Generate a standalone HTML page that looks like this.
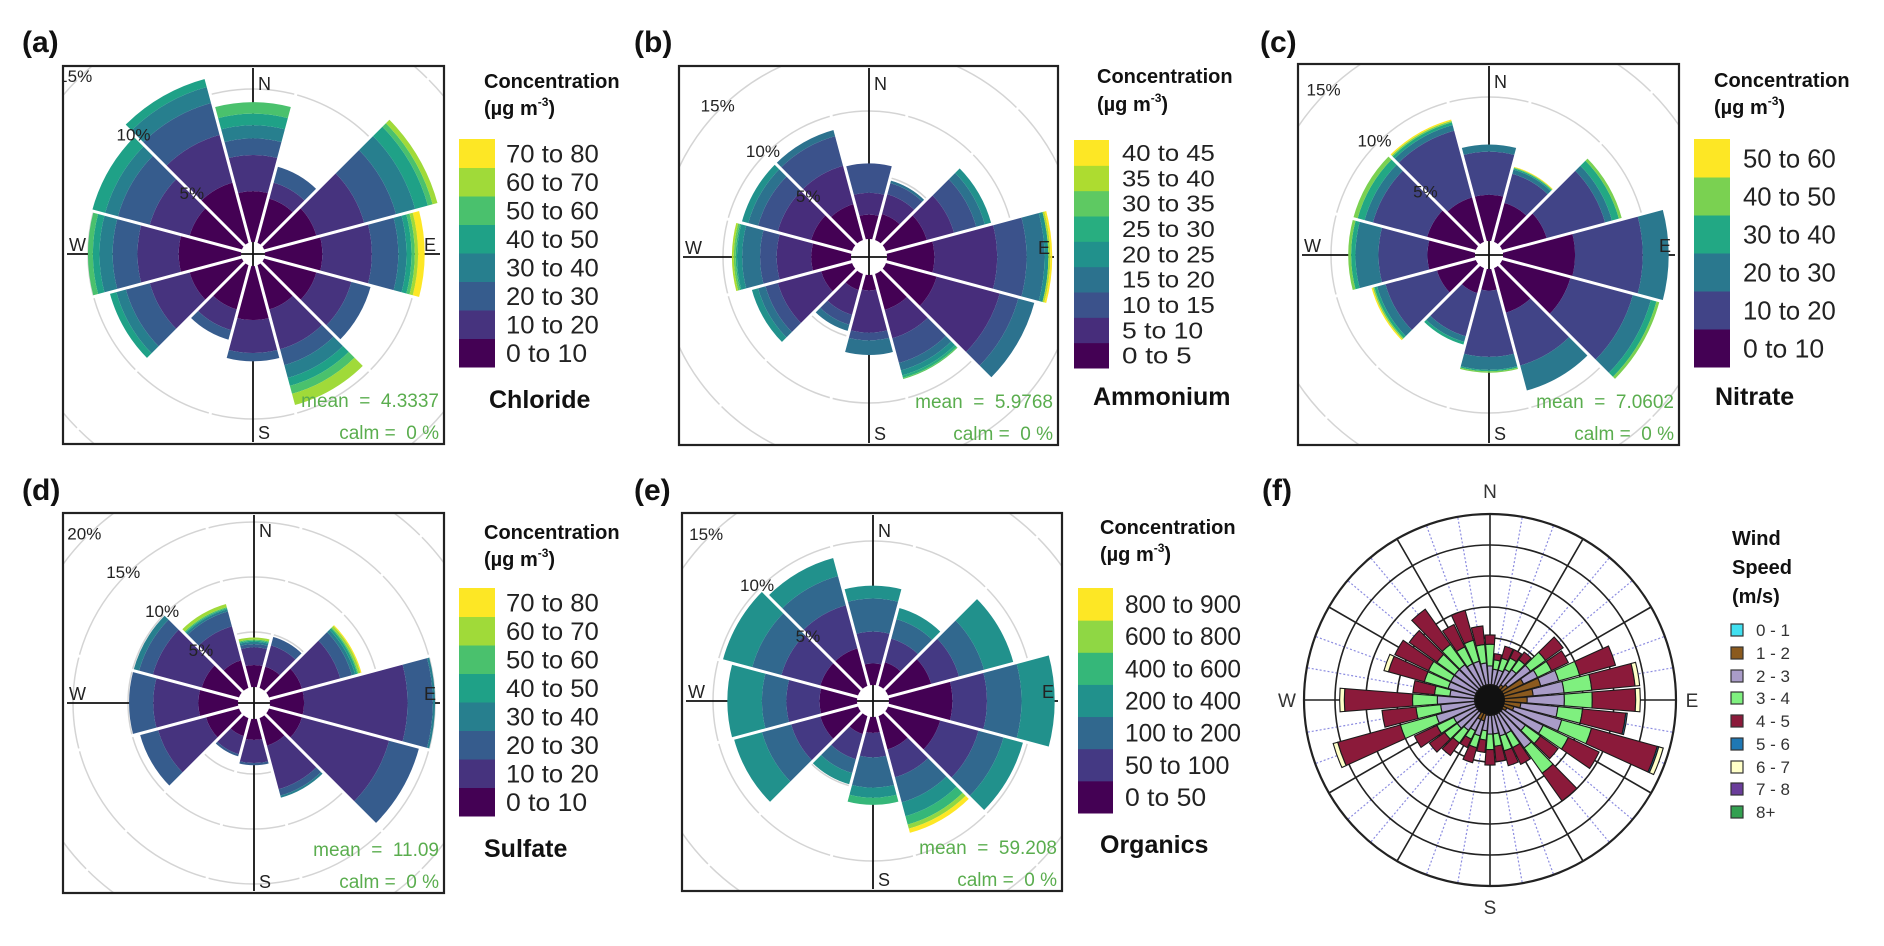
<!DOCTYPE html>
<html><head><meta charset="utf-8"><title>Wind roses</title>
<style>
html,body{margin:0;padding:0;background:#fff;width:1884px;height:946px;overflow:hidden;}
svg{display:block;font-family:"Liberation Sans",Arial,sans-serif;position:absolute;left:0;top:0;}
text{white-space:pre;}
</style></head>
<body>
<svg id="fig" width="1884" height="946" viewBox="0 0 1884 946" xmlns="http://www.w3.org/2000/svg">
<rect x="0" y="0" width="1884" height="946" fill="#fff"/>
</svg>
<script>
// ---------- panel data (percent frequency per concentration bin, sectors N clockwise, 30 deg) ----------
const chlorideBins = ["0 to 10","10 to 20","20 to 30","30 to 40","40 to 50","50 to 60","60 to 70","70 to 80"];
const chlorideSectors = [
 [3.8,2.2,1,0.8,0.7,0.7],[3.5,1,1],[4,3,2,1.2,0.8,0.3,0.3],[4.2,3,1.6,0.5,0.3,0.2,0.2,0.4],
 [4,2.2,1.2],[3.5,2.5,1,0.8,0.5,0.5,0.7],[4,2,0.5],[3.5,1.3,0.6],
 [4,2.5,1.5,0.6,0.4],[4.5,2.5,1.5,0.8,0.4,0.3],[4,2.5,2,0.8,0.8],[4.5,3,2,1,0.5]];
const ammoniumBins = ["0 to 5","5 to 10","10 to 15","15 to 20","20 to 25","25 to 30","30 to 35","35 to 40","40 to 45"];
const ammoniumSectors = [
 [1.9,1.7,2.3],[2.1,1.6,0.9,0.2],[3.3,2.2,1.8,0.7,0.5],[3.7,4.9,2.3,1.4,0.3,0,0,0.15,0.15],
 [4.1,5.1,1.5,1.3],[2.9,2.3,2,0.6,0.4,0.2,0.1],[1.2,3.3,0.6,1.15],[1.3,2,0.8,0.5],
 [2.5,3.5,1.0,0.6,0.5],[3.1,2.7,1.3,1.4,0.4,0.1,0.15,0.15],[3.3,2.7,1.6,0.8,0.5],[2.9,3.1,2.4,0.5]];
const nitrateBins = ["0 to 10","10 to 20","20 to 30","30 to 40","40 to 50","50 to 60"];
const nitrateSectors = [
 [3.2,3,0.5],[2.8,2.1,0.3,0.1,0.05,0.05],[3.2,4.2,0.5,0.5,0.2],[5,4.7,1.8],
 [4.9,4.5,1.3,0.4,0.2],[3.2,3.8,1.8],[1.5,4.6,0.9,0.1,0.1],[1.8,3.1,0.4,0.2],
 [2.8,3.7,0.6,0.2,0.1,0.1],[3.3,3.4,1.6,0.3,0.2],[3.5,3.9,0.6,0.5,0.3],[3.2,4.8,0.4,0.2,0.1,0.1]];
const sulfateBins = ["0 to 10","10 to 20","20 to 30","30 to 40","40 to 50","50 to 60","60 to 70","70 to 80"];
const sulfateSectors = [
 [2,1.6,0.3,0.2,0.1,0.1,0.2],[2,2,0.8],[3.1,3.6,1.1,0.3,0.2,0.1,0.2,0.1],[3.1,9.4,2.3,0.2],
 [3.1,8.2,2.8],[2.6,4.1,0.6,0.2],[1.9,2.1,0.2],[1.7,1.7,0.2],
 [3.1,4.5,1.7],[3.6,4.1,2.2],[3.5,4.6,1.3,0.5],[2.6,3.2,1.4,0.2,0.1,0.1,0.3]];
const organicsBins = ["0 to 50","50 to 100","100 to 200","200 to 400","400 to 600","600 to 800","800 to 900"];
const organicsSectors = [
 [1.5,2.2,2.3,0.9],[1.7,1.7,1.4,0.8],[3.1,2,1.8,2.1],[4.4,2.4,2.4,2.3],
 [3.75,2.75,1.8,1.4],[2.4,2,1.8,1,0.6,0.3,0.3],[1.1,1.7,2.1,0.7,0.5],[1.3,1.8,1,0.8],
 [2.7,2.1,2.1,2],[2.6,2.3,1.7,2.4],[2.7,2.8,2.1,2.1],[2.7,3.1,2.1,1.3]];

// ---------- wind speed rose data (units of ring spacing), 36 directions from N ----------
const windBins = ["0 - 1","1 - 2","2 - 3","3 - 4","4 - 5","5 - 6","6 - 7","7 - 8","8+"];
const wind01 = [0.1,0.1,0.1,0.1,0.1,0.1,0.1,0.1,0.1,0.1,0.1,0.1,0.1,0.1,0.1,0.1,0.1,0.1,0.1,0.1,0.1,0.1,0.1,0.1,0.1,0.1,0.1,0.1,0.1,0.1,0.1,0.1,0.1,0.1,0.1,0.1];
const wind12 = [0.3,0.3,0.3,0.3,0.4,0.5,1.0,1.5,1.2,1.0,0.8,0.6,0.4,0.3,0.3,0.3,0.3,0.3,0.3,0.3,0.5,0.5,0.3,0.3,0.3,0.3,0.3,0.3,0.3,0.3,0.3,0.3,0.3,0.3,0.3,0.3];
const wind23 = [0.6,0.5,0.5,0.6,0.6,0.9,0.5,0.6,1.0,1.2,1.2,1.6,1.3,0.9,1.4,0.7,0.7,0.6,0.6,0.5,0.5,0.4,0.7,0.8,0.8,1.3,1.1,1.2,0.8,0.9,0.9,0.9,0.9,0.8,0.8,0.7];
const wind34 = [0.7,0.3,0.4,0.4,0.4,0.6,0.5,0.7,0.9,0.9,0.8,1.0,0.9,0.6,1.0,0.5,0.5,0.4,0.5,0.3,0.4,0.3,0.5,0.5,0.6,1.2,0.8,0.8,0.5,0.8,0.8,0.7,0.8,0.6,0.7,0.6];
const wind45 = [0.3,0.2,0.4,0.3,0.3,0.7,0.6,1.2,1.4,1.4,1.4,2.2,1.1,0.7,1.1,0.6,0.5,0.5,0.5,0.4,0.5,0.3,0.5,0.6,0.8,2.1,1.1,2.2,0.7,1.2,1.2,1.1,1.4,0.8,1.0,0.6];
const wind56 = [0,0,0,0,0,0,0,0,0,0,0.05,0.05,0,0,0,0,0,0,0,0,0,0,0,0,0,0,0,0,0,0,0,0,0,0,0,0];
const wind67 = [0,0,0,0,0,0,0,0,0.15,0.15,0,0.15,0,0,0,0,0,0,0,0,0,0,0,0,0,0.15,0,0.15,0,0.15,0,0,0,0,0,0];
const wind78 = [0,0,0,0,0,0,0,0,0,0,0,0,0,0,0,0,0,0,0,0,0,0,0,0,0,0,0,0,0,0,0,0,0,0,0,0];
const wind8p = [0,0,0,0,0,0,0,0,0,0,0,0,0,0,0,0,0,0,0,0,0,0,0,0,0,0,0,0,0,0,0,0,0,0,0,0];

const NS = "http://www.w3.org/2000/svg";
const svg = document.getElementById('fig');
function mk(tag, attrs, parent){ const e=document.createElementNS(NS,tag); for(const k in attrs) e.setAttribute(k,attrs[k]); (parent||svg).appendChild(e); return e; }
function pt(cx,cy,r,a){ const t=a*Math.PI/180; return [cx+r*Math.sin(t), cy-r*Math.cos(t)]; }
function sectorPath(cx,cy,r1,r2,a1,a2){
  const p1=pt(cx,cy,r2,a1),p2=pt(cx,cy,r2,a2),p3=pt(cx,cy,r1,a2),p4=pt(cx,cy,r1,a1);
  const lg=(a2-a1)>180?1:0;
  return `M${p1[0]},${p1[1]} A${r2},${r2} 0 ${lg} 1 ${p2[0]},${p2[1]} L${p3[0]},${p3[1]} A${r1},${r1} 0 ${lg} 0 ${p4[0]},${p4[1]} Z`;
}
const v8=["#440154","#46337e","#365c8d","#277f8e","#1fa187","#4ac16d","#a0da39","#fde725"];
const v9=["#440154","#472d7b","#3b528b","#2c728e","#21918c","#28ae80","#5ec962","#addc30","#fde725"];
const v6=["#440154","#414487","#2a788e","#22a884","#7ad151","#fde725"];
const v7=["#440154","#443983","#31688e","#21918c","#35b779","#8fd744","#fde725"];

function label(txt,x,y,size,weight,anchor,name,fill){
  const t=mk('text',{x:x,y:y,'font-size':size,'font-weight':weight||'normal','text-anchor':anchor||'start',fill:fill||'#111'});
  t.textContent=txt;
  
  
  return t;
}

const panels=[
 {id:'a',name:'chloride',title:'Chloride',mean:'4.3337',data:chlorideSectors,bins:chlorideBins,cols:v8,
  box:[63,66,444,444],c:[253,254],r0:0,k:16.5,hole:12,pcts:[5,10,15],
  lg:{x:459,w:36,y0:139,y1:367,tx:506,fs:25},ttl:[484,88,115],nm:[489,408],let:[22,52]},
 {id:'b',name:'ammonium',title:'Ammonium',mean:'5.9768',data:ammoniumSectors,bins:ammoniumBins,cols:v9,
  box:[679,66,1058,445],c:[869,257],r0:18,k:12.8,hole:15,pcts:[5,10,15],
  lg:{x:1074,w:35,y0:140,y1:368,tx:1122,fs:23},ttl:[1097,83,111],nm:[1093,405],let:[634,52]},
 {id:'c',name:'nitrate',title:'Nitrate',mean:'7.0602',data:nitrateSectors,bins:nitrateBins,cols:v6,
  box:[1298,64,1679,445],c:[1489,255],r0:14,k:14.4,hole:14,pcts:[5,10,15],
  lg:{x:1694,w:36,y0:139,y1:367,tx:1743,fs:26},ttl:[1714,87,114],nm:[1715,405],let:[1260,52]},
 {id:'d',name:'sulfate',title:'Sulfate',mean:'11.09',data:sulfateSectors,bins:sulfateBins,cols:v8,
  box:[63,513,444,893],c:[254,703],r0:16,k:11,hole:14,pcts:[5,10,15,20],
  lg:{x:459,w:36,y0:588,y1:816,tx:506,fs:25},ttl:[484,539,566],nm:[484,857],let:[22,500]},
 {id:'e',name:'organics',title:'Organics',mean:'59.208',data:organicsSectors,bins:organicsBins,cols:v7,
  box:[682,513,1062,891],c:[873,701],r0:16,k:14.4,hole:14,pcts:[5,10,15],
  lg:{x:1078,w:35,y0:588,y1:813,tx:1125,fs:25},ttl:[1100,534,561],nm:[1100,853],let:[634,500]}
];

panels.forEach(P=>{
  const g=mk('g',{});
  
  
  const [bx0,by0,bx1,by1]=P.box, [cx,cy]=P.c;
  const cp=mk('clipPath',{id:'clip'+P.id},g);
  mk('rect',{x:bx0,y:by0,width:bx1-bx0,height:by1-by0},cp);
  const inner=mk('g',{'clip-path':'url(#clip'+P.id+')'},g);
  const R=p=>P.r0+P.k*p;
  for(let p=5;p<=30;p+=5){
    const ring=mk('circle',{cx:cx,cy:cy,r:R(p),fill:'none',stroke:'#d4d4d4','stroke-width':1.5},inner);
    
    
  }
  const ax1=mk('line',{x1:cx,y1:by0+2,x2:cx,y2:by1-2,stroke:'#111','stroke-width':1.8},inner);
  
  
  const ax2=mk('line',{x1:bx0+4,y1:cy,x2:bx1-4,y2:cy,stroke:'#111','stroke-width':1.8},inner);
  
  
  P.data.forEach((vals,i)=>{
    const ang=i*30; let cum=0;
    vals.forEach((v,j)=>{
      if(v<=0){return;}
      const path=mk('path',{d:sectorPath(cx,cy,R(cum),R(cum+v),ang-15,ang+15),fill:P.cols[j]},inner);
      
      
      cum+=v;
    });
  });
  for(let i=0;i<12;i++){
    const a=i*30+15, p2=pt(cx,cy,400,a);
    mk('line',{x1:cx,y1:cy,x2:p2[0],y2:p2[1],stroke:'#fff','stroke-width':3},inner);
  }
  const hole=mk('circle',{cx:cx,cy:cy,r:P.hole,fill:'#fff'},inner);
  
  
  mk('line',{x1:cx-P.hole,y1:cy,x2:cx+P.hole,y2:cy,stroke:'#111','stroke-width':1.8},inner);
  mk('line',{x1:cx,y1:cy-P.hole,x2:cx,y2:cy+P.hole,stroke:'#111','stroke-width':1.8},inner);
  P.pcts.forEach(p=>{
    const d=R(p)+4;
    const t=mk('text',{x:cx-d*0.707,y:cy-d*0.707+6,'font-size':17,'text-anchor':'middle',fill:'#222'},inner);
    t.textContent=p+'%';
    
    
  });
  const cl=[['N',cx+5,by0+24],['S',cx+5,by1-5],['W',bx0+6,cy-3],['E',bx1-20,cy-3]];
  cl.forEach(c=>{
    const t=mk('text',{x:c[1],y:c[2],'font-size':18,fill:'#222'},inner);
    t.textContent=c[0];
    
    
  });
  const m=mk('text',{x:bx1-5,y:by1-37,'font-size':19,'text-anchor':'end',fill:'#5aad4e'},inner);
  m.textContent='mean  =  '+P.mean;
  
  
  const c2=mk('text',{x:bx1-5,y:by1-5,'font-size':19,'text-anchor':'end',fill:'#5aad4e'},inner);
  c2.textContent='calm =  0 %';
  
  
  const box=mk('rect',{x:bx0,y:by0,width:bx1-bx0,height:by1-by0,fill:'none',stroke:'#222','stroke-width':2.2},g);
  
  
  const L=P.lg, n=P.bins.length, h=(L.y1-L.y0)/n;
  for(let j=0;j<n;j++){
    const yy=L.y1-(j+1)*h;
    const r=mk('rect',{x:L.x,y:yy,width:L.w,height:h+0.5,fill:P.cols[j]},g);
    
    
    const t=mk('text',{x:L.tx,y:yy+h/2+L.fs*0.36,'font-size':L.fs,fill:'#222',textLength:P.bins[j].length*11.6,lengthAdjust:'spacingAndGlyphs'},g);
    t.textContent=P.bins[j];
    
    
  }
  label('Concentration',P.ttl[0],P.ttl[1],20,'bold','start','legend-title');
  const t2=mk('text',{x:P.ttl[0],y:P.ttl[2],'font-size':20,'font-weight':'bold',fill:'#111'},g);
  
  
  t2.innerHTML='(µg m<tspan font-size="12" dy="-9">-3</tspan><tspan dy="9">)</tspan>';
  label(P.title,P.nm[0],P.nm[1],25,'bold','start','species-title');
  label('('+P.id+')',P.let[0],P.let[1],30,'bold','start','panel-letter');
});

(function(){
  const cx=1490, cy=700, U=31, Rout=186;
  const g=mk('g',{});
  
  
  for(let a=0;a<360;a+=10){
    if(a%30===0) continue;
    const p1=pt(cx,cy,U,a),p2=pt(cx,cy,Rout,a);
    mk('line',{x1:p1[0],y1:p1[1],x2:p2[0],y2:p2[1],stroke:'#8c8ce0','stroke-width':1.2,'stroke-dasharray':'2,2'},g);
  }
  [2,3,4,5].forEach(u=>{
    const c=mk('circle',{cx:cx,cy:cy,r:u*U,fill:'none',stroke:'#222','stroke-width':1.6},g);
    
    
  });
  const oc=mk('circle',{cx:cx,cy:cy,r:Rout,fill:'none',stroke:'#222','stroke-width':2.2},g);
  
  
  for(let a=0;a<360;a+=30){
    const p2=pt(cx,cy,Rout,a);
    mk('line',{x1:cx,y1:cy,x2:p2[0],y2:p2[1],stroke:'#222','stroke-width':1.6},g);
  }
  const wcols=["#40e0f0","#8b5a1e","#a99cc8","#7ff07f","#8b1a3a","#1f78b4","#ffffc8","#6a3d9a","#33a050"];
  const series=[wind01,wind12,wind23,wind34,wind45,wind56,wind67,wind78,wind8p];
  for(let i=0;i<36;i++){
    const ang=i*10; let cum=0.1;
    series.forEach((s,j)=>{
      const v=s[i]; if(v<=0) return;
      const p=mk('path',{d:sectorPath(cx,cy,cum*U,(cum+v)*U,ang-4.5,ang+4.5),fill:wcols[j],stroke:'#1a1a1a','stroke-width':1.1},g);
      
      
      cum+=v;
    });
  }
  const blob=mk('circle',{cx:cx,cy:cy,r:15,fill:'#111'},g);
  
  
  [['N',cx,498],['S',cx,914],['E',1692,707],['W',1287,707]].forEach(c=>label(c[0],c[1],c[2],19,'normal','middle','compass-'+c[0],'#333'));
  label('(f)',1262,500,30,'bold','start','panel-letter');
  label('Wind',1732,545,20,'bold','start','legend-title');
  label('Speed',1732,574,20,'bold','start','legend-title');
  label('(m/s)',1732,603,20,'bold','start','legend-title');
  const ys=[630,653,676,698,721,744,767,789,812];
  windBins.forEach((b,j)=>{
    const r=mk('rect',{x:1731,y:ys[j]-6,width:12,height:12,fill:wcols[j],stroke:'#333','stroke-width':1.2});
    
    
    label(b,1756,ys[j]+6,17,'normal','start','legend-label-'+j,'#333');
  });
})();
</script>
</body></html>
